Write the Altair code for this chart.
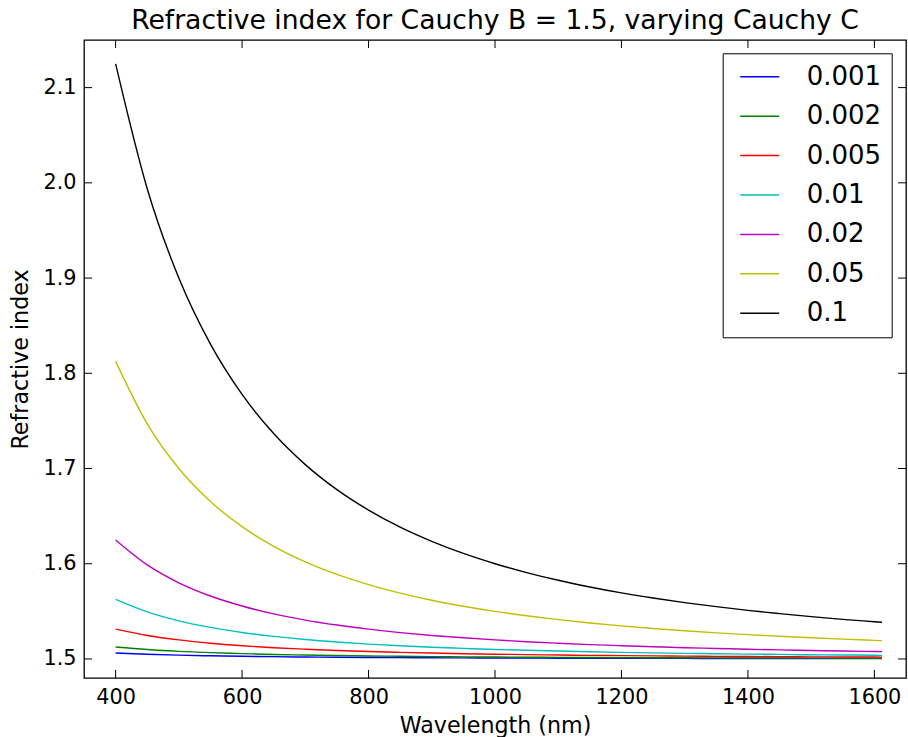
import altair as alt
import pandas as pd

wavelength = [400, 450, 500, 550, 600, 650, 700, 750, 800, 850, 900, 950, 1000,
              1050, 1100, 1150, 1200, 1250, 1300, 1350, 1400, 1450, 1500, 1550, 1600, 1612]

c_labels = ["0.001", "0.002", "0.005", "0.01", "0.02", "0.05", "0.1"]
c_colors = ["#0000ff", "#008000", "#ff0000", "#00bfbf", "#bf00bf", "#bfbf00", "#000000"]

n_0001 = [1.5063, 1.5049, 1.5040, 1.5033, 1.5028, 1.5024, 1.5020, 1.5018, 1.5016, 1.5014, 1.5012, 1.5011, 1.5010,
          1.5009, 1.5008, 1.5008, 1.5007, 1.5006, 1.5006, 1.5005, 1.5005, 1.5005, 1.5004, 1.5004, 1.5004, 1.5004]
n_0002 = [1.5125, 1.5099, 1.5080, 1.5066, 1.5056, 1.5047, 1.5041, 1.5036, 1.5031, 1.5028, 1.5025, 1.5022, 1.5020,
          1.5018, 1.5017, 1.5015, 1.5014, 1.5013, 1.5012, 1.5011, 1.5010, 1.5010, 1.5009, 1.5008, 1.5008, 1.5008]
n_0005 = [1.5313, 1.5247, 1.5200, 1.5165, 1.5139, 1.5118, 1.5102, 1.5089, 1.5078, 1.5069, 1.5062, 1.5055, 1.5050,
          1.5045, 1.5041, 1.5038, 1.5035, 1.5032, 1.5030, 1.5027, 1.5026, 1.5024, 1.5022, 1.5021, 1.5020, 1.5019]
n_001 = [1.5625, 1.5494, 1.5400, 1.5331, 1.5278, 1.5237, 1.5204, 1.5178, 1.5156, 1.5138, 1.5123, 1.5111, 1.5100,
         1.5091, 1.5083, 1.5076, 1.5069, 1.5064, 1.5059, 1.5055, 1.5051, 1.5048, 1.5044, 1.5042, 1.5039, 1.5038]
n_002 = [1.6250, 1.5988, 1.5800, 1.5661, 1.5556, 1.5473, 1.5408, 1.5356, 1.5313, 1.5277, 1.5247, 1.5222, 1.5200,
         1.5181, 1.5165, 1.5151, 1.5139, 1.5128, 1.5118, 1.5110, 1.5102, 1.5095, 1.5089, 1.5083, 1.5078, 1.5077]
n_005 = [1.8125, 1.7469, 1.7000, 1.6653, 1.6389, 1.6183, 1.6020, 1.5889, 1.5781, 1.5692, 1.5617, 1.5554, 1.5500,
         1.5454, 1.5413, 1.5378, 1.5347, 1.5320, 1.5296, 1.5274, 1.5255, 1.5238, 1.5222, 1.5208, 1.5195, 1.5192]
n_01 = [2.1250, 1.9938, 1.9000, 1.8306, 1.7778, 1.7367, 1.7041, 1.6778, 1.6563, 1.6384, 1.6235, 1.6108, 1.6000,
        1.5907, 1.5826, 1.5756, 1.5694, 1.5640, 1.5592, 1.5549, 1.5510, 1.5476, 1.5444, 1.5416, 1.5391, 1.5385]

x_ticks = [400, 600, 800, 1000, 1200, 1400, 1600]
y_ticks = [1.5, 1.6, 1.7, 1.8, 1.9, 2.0, 2.1]

series = [n_0001, n_0002, n_0005, n_001, n_002, n_005, n_01]
rows = []
for lab, vals in zip(c_labels, series):
    for w, v in zip(wavelength, vals):
        rows.append({"wavelength": w, "n": v, "C": lab})
df = pd.DataFrame(rows)

W, H = 822, 638
FONT = "DejaVu Sans"

xscale = alt.Scale(domain=[350, 1650], nice=False, zero=False)
yscale = alt.Scale(domain=[1.48, 2.15], nice=False, zero=False)

lines = alt.Chart(df).mark_line(strokeWidth=1.4, interpolate="monotone").encode(
    x=alt.X("wavelength:Q", scale=xscale, title="Wavelength (nm)",
            axis=alt.Axis(values=x_ticks, format="d")),
    y=alt.Y("n:Q", scale=yscale, title="Refractive index",
            axis=alt.Axis(values=y_ticks, format=".1f")),
    color=alt.Color("C:N", sort=c_labels,
                    scale=alt.Scale(domain=c_labels, range=c_colors),
                    legend=alt.Legend(
                        title=None, orient="none", legendX=638.7, legendY=13.3,
                        symbolType="M-3,0H3", symbolSize=169, symbolStrokeWidth=1.5,
                        symbolOffset=13.5, labelOffset=34,
                        labelFontSize=26, labelFont=FONT, labelColor="black",
                        rowPadding=13.4, padding=10.5,
                        strokeColor="black", fillColor="white",
                    )),
    detail="C:N",
)

xt = pd.DataFrame({"t": x_ticks})
yt = pd.DataFrame({"t": y_ticks})

xb = alt.Chart(xt).mark_rule(color="black", strokeWidth=1).encode(
    x=alt.X("t:Q", scale=xscale), y=alt.value(H), y2=alt.value(H - 8))
xtop = alt.Chart(xt).mark_rule(color="black", strokeWidth=1).encode(
    x=alt.X("t:Q", scale=xscale), y=alt.value(0), y2=alt.value(8))
yl = alt.Chart(yt).mark_rule(color="black", strokeWidth=1).encode(
    y=alt.Y("t:Q", scale=yscale), x=alt.value(0), x2=alt.value(8))
yr = alt.Chart(yt).mark_rule(color="black", strokeWidth=1).encode(
    y=alt.Y("t:Q", scale=yscale), x=alt.value(W - 8), x2=alt.value(W))

chart = alt.layer(lines, xb, xtop, yl, yr).properties(
    width=W, height=H,
    title=alt.Title("Refractive index for Cauchy B = 1.5, varying Cauchy C",
                    font=FONT, fontSize=26.6, fontWeight="normal", color="black",
                    offset=5),
    autosize=alt.AutoSizeParams(type="none"),
    padding={"left": 84, "top": 40, "right": 2, "bottom": 59},
).configure_view(
    stroke="black", strokeWidth=1.3
).configure_axis(
    domain=False, ticks=False, grid=False,
    labelFont=FONT, labelFontSize=20.8, labelColor="black",
    titleFont=FONT, titleFontSize=22.2, titleColor="black", titleFontWeight="normal",
).configure_axisX(
    labelPadding=9, titlePadding=7.5
).configure_axisY(
    labelPadding=8, titlePadding=10
)

chart.save("out.html", embed_options={"renderer": "svg", "actions": False})
